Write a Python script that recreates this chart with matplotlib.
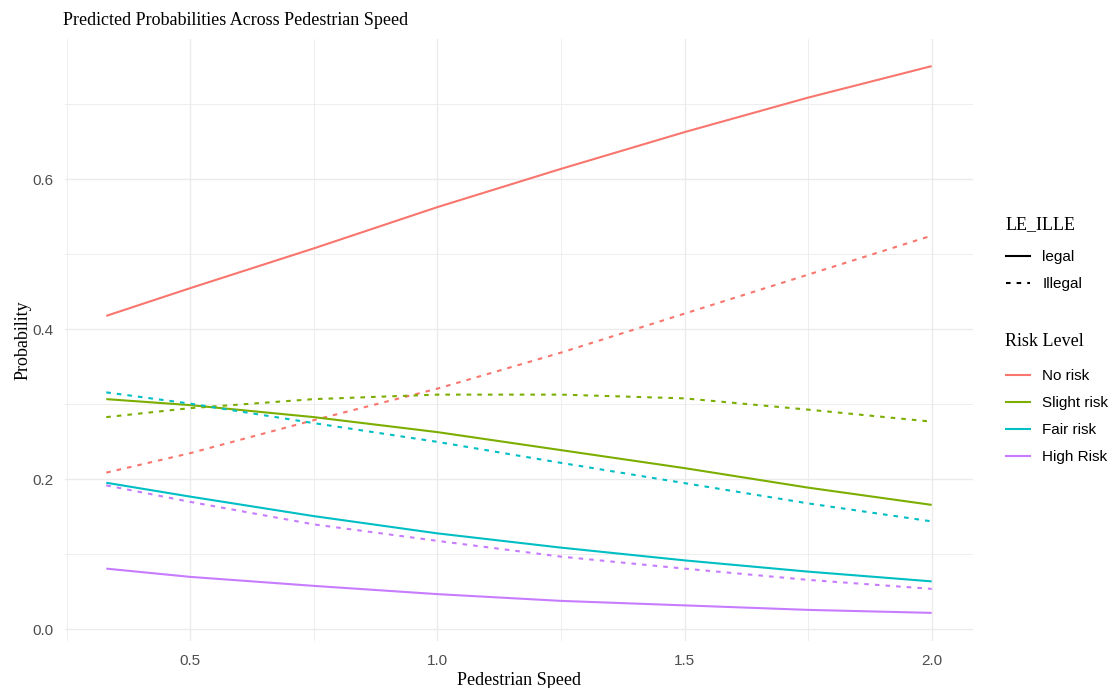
import numpy as np
import matplotlib
matplotlib.use("Agg")
import matplotlib.pyplot as plt
from matplotlib.lines import Line2D

# predicted probabilities
speed = [0.33, 0.5, 0.75, 1.0, 1.25, 1.5, 1.75, 2.0]

no_legal = [0.418, 0.455, 0.508, 0.563, 0.614, 0.663, 0.709, 0.751]
no_illegal = [0.209, 0.235, 0.279, 0.321, 0.369, 0.421, 0.473, 0.525]
slight_legal = [0.307, 0.299, 0.283, 0.263, 0.239, 0.215, 0.189, 0.166]
slight_illegal = [0.283, 0.295, 0.307, 0.313, 0.313, 0.308, 0.293, 0.277]
fair_legal = [0.1955, 0.177, 0.151, 0.128, 0.109, 0.092, 0.077, 0.064]
fair_illegal = [0.316, 0.301, 0.275, 0.250, 0.222, 0.195, 0.168, 0.144]
high_legal = [0.081, 0.070, 0.058, 0.047, 0.038, 0.032, 0.026, 0.022]
high_illegal = [0.192, 0.170, 0.140, 0.118, 0.097, 0.081, 0.066, 0.054]

risk_levels = ["No risk", "Slight risk", "Fair risk", "High Risk"]
status_labels = ["legal", "Illegal"]
colors = ["#F8766D", "#7CAE00", "#00BFC4", "#C77CFF"]

legal = [no_legal, slight_legal, fair_legal, high_legal]
illegal = [no_illegal, slight_illegal, fair_illegal, high_illegal]

serif = "Liberation Serif"
sans = "Liberation Sans"
dash = (0, (2.2, 2.9))

fig = plt.figure(figsize=(11.15, 6.88), dpi=100)
ax = fig.add_axes([0.0583, 0.0683, 0.8143, 0.8754])

for c, yl, yi in zip(colors, legal, illegal):
    ax.plot(speed, yl, color=c, lw=1.5, solid_capstyle="butt")
    ax.plot(speed, yi, color=c, lw=1.5, linestyle=dash)

ax.set_xlim(0.2465, 2.0835)
ax.set_ylim(-0.0155, 0.7875)
ax.set_xticks([0.5, 1.0, 1.5, 2.0])
ax.set_xticks([0.25, 0.75, 1.25, 1.75], minor=True)
ax.set_yticks([0.0, 0.2, 0.4, 0.6])
ax.set_yticks([0.1, 0.3, 0.5, 0.7], minor=True)
ax.set_xticklabels(["0.5", "1.0", "1.5", "2.0"])
ax.set_yticklabels(["0.0", "0.2", "0.4", "0.6"])

ax.grid(which="major", color="#EBEBEB", lw=1.0)
ax.grid(which="minor", color="#EBEBEB", lw=0.6)
ax.set_axisbelow(True)
for s in ax.spines.values():
    s.set_visible(False)
ax.tick_params(which="both", length=0, labelsize=11, labelcolor="#4D4D4D")
ax.tick_params(axis="x", pad=9)
ax.tick_params(axis="y", pad=8)
for lab in ax.get_xticklabels() + ax.get_yticklabels():
    lab.set_fontfamily(sans)

ax.set_xlabel("Pedestrian Speed", fontfamily=serif, fontsize=13, labelpad=3)
ax.set_ylabel("Probability", fontfamily=serif, fontsize=13, labelpad=1)
fig.text(0.0565, 0.963, "Predicted Probabilities Across Pedestrian Speed",
         fontfamily=serif, fontsize=13, va="baseline")

# legends (titles placed as text so the gaps match)
fig.text(0.9015, 1 - 225 / 688, "LE_ILLE", fontfamily=serif, fontsize=13,
         va="center")
lt_handles = [Line2D([], [], color="black", lw=1.5),
              Line2D([], [], color="black", lw=1.5, linestyle=dash)]
leg1 = fig.legend(lt_handles, status_labels,
                  loc="upper left", bbox_to_anchor=(0.902, 1 - 250 / 688),
                  frameon=False, prop={"family": sans, "size": 11},
                  handlelength=1.6, handletextpad=0.8, labelspacing=0.85,
                  borderaxespad=0, borderpad=0)

fig.text(0.9015, 1 - 341 / 688, "Risk Level", fontfamily=serif, fontsize=13,
         va="center")
col_handles = [Line2D([], [], color=c, lw=1.5) for c in colors]
leg2 = fig.legend(col_handles, risk_levels,
                  loc="upper left", bbox_to_anchor=(0.902, 1 - 369 / 688),
                  frameon=False, prop={"family": sans, "size": 11},
                  handlelength=1.6, handletextpad=0.8, labelspacing=0.85,
                  borderaxespad=0, borderpad=0)

fig.savefig("out.png", dpi=100, facecolor="white")
